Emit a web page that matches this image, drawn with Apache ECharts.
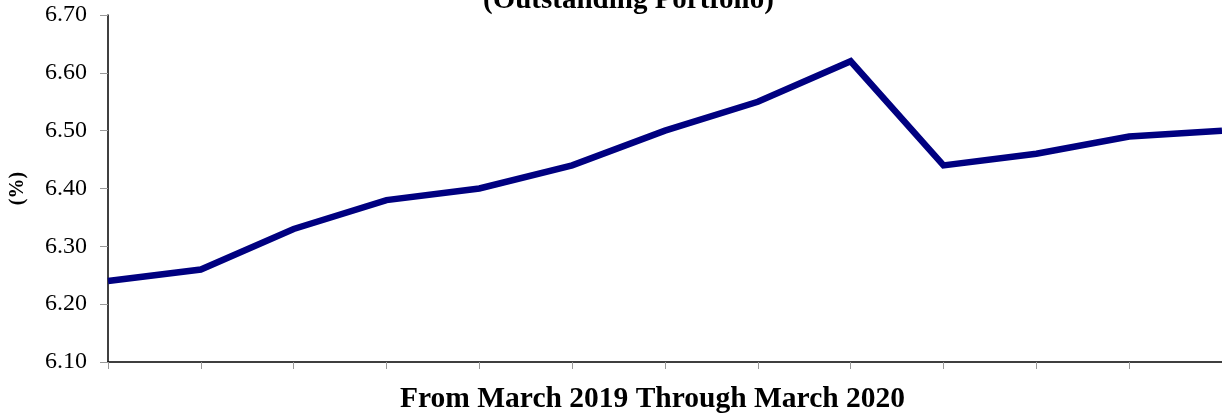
<!DOCTYPE html>
<html>
<head>
<meta charset="utf-8">
<script src="https://cdn.jsdelivr.net/npm/echarts@6/dist/echarts.min.js"></script>
<style>html,body{margin:0;padding:0;background:#fff}#c{width:1222px;height:416px}</style>
</head>
<body>
<div id="c"></div>
<script>
const months = ['Mar 2019','Apr 2019','May 2019','Jun 2019','Jul 2019','Aug 2019','Sep 2019','Oct 2019','Nov 2019','Dec 2019','Jan 2020','Feb 2020','Mar 2020'];
const rates = [6.24, 6.26, 6.33, 6.38, 6.40, 6.44, 6.50, 6.55, 6.62, 6.44, 6.46, 6.49, 6.50];
const titleText = '(Outstanding Portfolio)';
const xName = 'From March 2019 Through March 2020';
const yName = '(%)';

const chart = echarts.init(document.getElementById('c'), null, {renderer:'canvas'});
const serif = '"Liberation Serif","Times New Roman",serif';
chart.setOption({
  animation: false,
  backgroundColor: '#fff',
  graphic: [
    {type:'text', left: 483, top: -14,
     style:{text: titleText, fontFamily: serif, fontWeight:'bold', fontSize: 29, fill:'#000'}},
    {type:'text', left: 400, top: 384,
     style:{text: xName, fontFamily: serif, fontWeight:'bold', fontSize: 29.5, fill:'#000'}}
  ],
  grid: {left:108, right:0, top:15, bottom:54, containLabel:false},
  xAxis: {
    type:'category', data: months, boundaryGap:false,
    axisLine:{show:true, lineStyle:{color:'#000', width:1.5}},
    axisTick:{show:true, inside:false, length:7, alignWithLabel:true, lineStyle:{color:'#999', width:1}},
    axisLabel:{show:false},
    splitLine:{show:false}
  },
  yAxis: {
    type:'value', min:6.1, max:6.7, interval:0.1,
    name: yName, nameLocation:'middle', nameGap:80, nameRotate:90,
    nameTextStyle:{fontFamily: serif, fontWeight:'bold', fontSize:20, color:'#000'},
    axisLine:{show:true, lineStyle:{color:'#000', width:1.5}},
    axisTick:{show:true, length:8, lineStyle:{color:'#999', width:1}},
    axisLabel:{margin:21, fontFamily: serif, fontSize:24, color:'#000', formatter: v => v.toFixed(2)},
    splitLine:{show:false}
  },
  series: [{
    type:'line', data: rates, symbol:'none',
    lineStyle:{color:'#000080', width:6.5, join:'miter'},
    clip:false
  }]
});
</script>
</body>
</html>
